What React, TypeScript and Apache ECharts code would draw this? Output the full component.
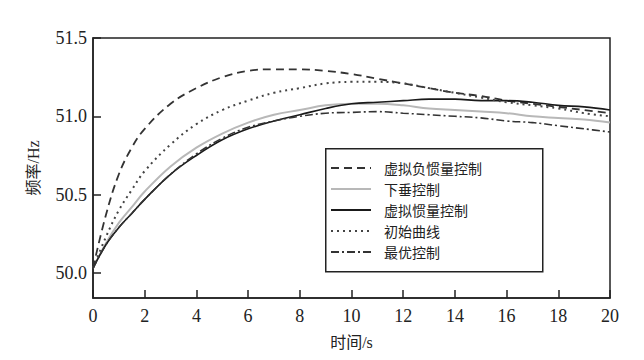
import React, { useEffect, useRef } from "react";
import * as echarts from "echarts";

const times = [0, 0.5, 1, 1.5, 2, 3, 4, 5, 6, 7, 8, 9, 10, 11, 12, 13, 14, 15, 16, 17, 18, 19, 20];
const negInertia = [50.03, 50.37, 50.63, 50.80, 50.92, 51.08, 51.18, 51.25, 51.29, 51.30, 51.30, 51.29, 51.27, 51.24, 51.21, 51.18, 51.15, 51.13, 51.10, 51.08, 51.06, 51.04, 51.02];
const droop = [50.03, 50.19, 50.32, 50.42, 50.52, 50.68, 50.80, 50.89, 50.96, 51.01, 51.04, 51.07, 51.08, 51.08, 51.07, 51.05, 51.04, 51.03, 51.02, 51.00, 50.99, 50.98, 50.96];
const virtInertia = [50.03, 50.18, 50.29, 50.38, 50.47, 50.63, 50.75, 50.85, 50.92, 50.97, 51.01, 51.05, 51.08, 51.09, 51.10, 51.11, 51.11, 51.10, 51.10, 51.09, 51.07, 51.06, 51.04];
const initial = [50.03, 50.23, 50.40, 50.53, 50.65, 50.82, 50.95, 51.04, 51.10, 51.15, 51.18, 51.21, 51.22, 51.22, 51.21, 51.18, 51.15, 51.12, 51.09, 51.07, 51.05, 51.02, 51.00];
const optimal = [50.03, 50.18, 50.29, 50.38, 50.47, 50.63, 50.76, 50.86, 50.93, 50.97, 51.00, 51.02, 51.025, 51.03, 51.02, 51.01, 51.00, 50.99, 50.97, 50.96, 50.94, 50.92, 50.90];
const yTicks = [50.0, 50.5, 51.0, 51.5];
const seriesNames = ["虚拟负惯量控制", "下垂控制", "虚拟惯量控制", "初始曲线", "最优控制"];

const pair = (vals: number[]) => times.map((t, i) => [t, vals[i]]);

export default function App() {
  const ref = useRef<HTMLDivElement>(null);
  useEffect(() => {
    if (!ref.current) return;
    const chart = echarts.init(ref.current, undefined, { renderer: "svg" });
    const serif = "'Liberation Serif', 'Noto Sans CJK SC', serif";
    const mk = (name: string, vals: number[], color: string, width: number, type: any, z: number) => ({
      name,
      type: "line",
      data: pair(vals),
      smooth: 0.4,
      symbol: "none",
      showSymbol: false,
      z,
      lineStyle: { color, width, type },
      itemStyle: { color },
    });
    chart.setOption({
      animation: false,
      backgroundColor: "#fff",
      grid: {
        left: 93,
        right: 34,
        top: 38,
        bottom: 62,
        show: true,
        borderColor: "#222",
        borderWidth: 1.5,
        backgroundColor: "transparent",
      },
      xAxis: {
        type: "value",
        min: 0,
        max: 20,
        interval: 2,
        name: "时间/s",
        nameLocation: "middle",
        nameGap: 36,
        nameTextStyle: { fontFamily: serif, fontSize: 16, color: "#222" },
        axisLine: { lineStyle: { color: "#222", width: 1.5 } },
        axisTick: { inside: true, length: 8, lineStyle: { color: "#222", width: 1.5 } },
        axisLabel: { fontFamily: serif, fontSize: 18, color: "#222", margin: 9 },
        splitLine: { show: false },
      },
      yAxis: {
        type: "value",
        min: 49.84,
        max: 51.5,
        name: "频率/Hz",
        nameLocation: "middle",
        nameGap: 52,
        nameTextStyle: { fontFamily: serif, fontSize: 16, color: "#222" },
        axisLine: { show: true, lineStyle: { color: "#222", width: 1.5 } },
        axisTick: { show: true, inside: true, length: 8, customValues: yTicks, lineStyle: { color: "#222", width: 1.5 } },
        axisLabel: {
          fontFamily: serif,
          fontSize: 18,
          color: "#222",
          margin: 6,
          customValues: yTicks,
          formatter: (v: number) => v.toFixed(1),
        },
        splitLine: { show: false },
      },
      legend: {
        orient: "vertical",
        left: 330,
        top: 161,
        z: 10,
        itemWidth: 40,
        itemHeight: 14,
        itemGap: 7,
        padding: 0,
        data: seriesNames,
        itemStyle: { opacity: 0 },
        textStyle: { fontFamily: "'Noto Sans CJK SC', serif", fontSize: 14, lineHeight: 14, color: "#222", padding: [0, 0, 0, 8] },
      },
      graphic: [
        {
          type: "rect",
          left: 325,
          top: 148,
          z: 4,
          shape: { width: 217, height: 123 },
          style: { fill: "#fff", stroke: "#222", lineWidth: 1.5 },
        },
      ],
      series: [
        mk(seriesNames[0], negInertia, "#333", 1.8, [8, 5], 3),
        mk(seriesNames[1], droop, "#b8b8b8", 2, "solid", 2),
        mk(seriesNames[2], virtInertia, "#1a1a1a", 1.6, "solid", 3),
        mk(seriesNames[3], initial, "#444", 2, [2, 4], 3),
        mk(seriesNames[4], optimal, "#333", 1.6, [8, 3, 2, 3], 3),
      ],
    });
    return () => chart.dispose();
  }, []);
  return <div ref={ref} style={{ width: 644, height: 360, margin: -8 }} />;
}
